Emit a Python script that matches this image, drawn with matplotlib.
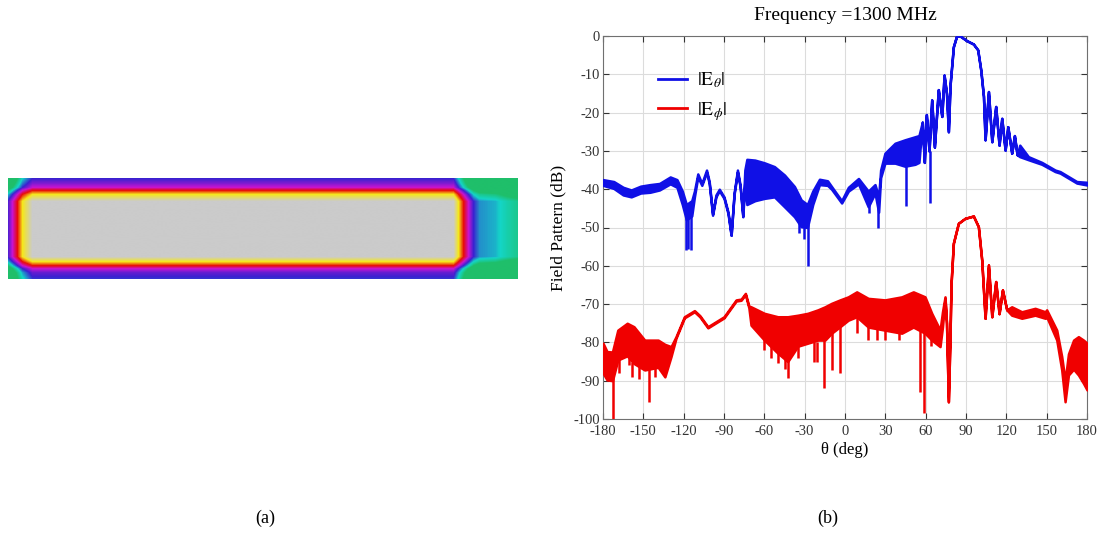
import numpy as np
import matplotlib
matplotlib.use('Agg')
import matplotlib.pyplot as plt
from matplotlib.colors import LinearSegmentedColormap
from matplotlib.lines import Line2D

plt.rcParams['font.family'] = ['Liberation Serif', 'DejaVu Serif']
plt.rcParams['mathtext.fontset'] = 'stix'
plt.rcParams['axes.unicode_minus'] = False

# ---- panel (a): field map, level profiles read across the strip ----
# level scale: 0 green, 1 cyan, 2 blue, 3 magenta, 4 red, 5 yellow, 6 grey
row_y = [0, 5, 9, 12, 16, 23, 79, 84, 88, 91, 95, 101]
row_level = [2.0, 2.5, 3.0, 4.0, 5.0, 6.0, 6.0, 5.0, 4.0, 3.0, 2.3, 1.9]
col_x = [0, 5, 9, 14, 24, 446, 451, 456, 461, 466, 472, 488, 500, 510]
col_level = [2.2, 3.2, 4.0, 5.0, 6.0, 6.0, 5.0, 4.0, 3.0, 2.0, 1.4, 1.2, 0.7, 0.4]
field_colors = ['#1fbf6a', '#14d6c8', '#3a22d0', '#c814d2', '#e80a0a', '#f6e81a', '#cbcbcb']

# ---- panel (b): |E_theta| (blue), envelope of the fast ripple ----
th_b = [-180, -172, -165, -159, -152, -145, -138, -130, -125, -121, -118, -114, -112,
        -109.5, -106.5, -103, -101, -98.5, -96, -93.5, -90, -87, -84.7, -82.5, -80,
        -78, -76, -74.5, -73, -67, -60, -52.5, -45, -37.6, -32.6, -28, -24, -19, -13,
        -10, -2.5, 2.5, 10, 17.3, 22.3, 25, 26.5, 29.7, 37.2, 44.6, 52.1, 55, 57.5,
        59, 60.5, 62.5, 64.5, 66.5, 69.4, 72, 73.7, 75.5, 76.9, 78.1, 80.6, 83, 85.6,
        90.5, 95.5, 98.7, 101, 103, 104.2, 106.7, 109.2, 112.1, 114.6, 116.6, 119.1,
        121.1, 124, 126, 128, 130, 136.4, 146.4, 156.3, 160, 172.4, 180]
hi_b = [-37.5, -38.0, -39.5, -40.2, -39.2, -38.8, -38.5, -36.8, -37.5, -40.5, -44, -43, -40.5,
        -36.0, -38.5, -35.0, -38, -46.5, -41.5, -40.0, -42, -46, -52, -41, -35,
        -39, -47, -35, -32.2, -32.4, -33.1, -34.1, -36.3, -39.3, -42.8, -44, -40.5, -37.4, -37.8,
        -39.3, -43, -39.5, -37.2, -40.5, -38.8, -42, -35, -30.6, -28, -27.1, -26.3, -26, -22.5,
        -33, -20.5, -30, -16.7, -29, -14, -21, -10.2, -15, -25, -13, -2.8, 0, 0,
        -1.2, -2.1, -3.6, -8.9, -15.8, -27.1, -14.5, -27.6, -18.4, -28.5, -21.5, -29.8,
        -23.7, -30.6, -26, -31, -28.5, -31.5, -33.0, -35, -35.4, -38, -38.2]
lo_b = [-39.0, -39.8, -41.5, -42.0, -41.0, -40.8, -40.2, -38.6, -39.5, -44.0, -48, -47, -42,
        -36.8, -39.0, -35.6, -38.5, -46.8, -42, -40.4, -42.4, -46.4, -52, -41.4, -35.5,
        -39.4, -47.2, -38, -44, -43, -42.4, -42, -44.6, -47.2, -49.8, -50, -44, -38.8, -39.0,
        -40, -43.6, -40.5, -38.6, -44.6, -41, -46, -37, -33.2, -33.2, -34, -33.5, -33, -22.5,
        -33, -20.5, -30, -16.7, -29, -14, -21, -10.2, -15, -25, -13, -2.8, 0, 0,
        -1.2, -2.1, -3.6, -8.9, -15.8, -27.1, -14.5, -27.6, -18.4, -28.5, -21.5, -29.8,
        -23.7, -30.6, -26, -31, -31.5, -32.3, -33.5, -35.4, -35.8, -38.4, -38.9]
spike_th_b = [-118.5, -116.5, -114.5, -33.9, -30.5, -27.6, 17.8, 24.8, 45.5, 63.2]
spike_top_b = [-46, -46, -46, -48, -48, -49, -43, -44, -33, -30]
spike_bot_b = [-56, -55.5, -56, -51.5, -53, -60, -46.1, -50.2, -44.4, -43.7]

# ---- panel (b): |E_phi| (red) ----
th_r = [-180, -177, -173, -169, -162, -157, -149, -139, -134, -129.4, -125.7, -119.5, -112,
        -108, -102, -90, -81, -77.3, -74.1, -71.5, -69.9, -60, -50, -42.6, -35.1, -27.7,
        -20.2, -14.9, -10, -3.7, 2.4, 8.7, 17.3, 29.7, 42.2, 50.8, 59.5, 64.5, 70.7, 72.5,
        74.4, 75.5, 76.9, 78, 78.9, 80.6, 84.3, 89.3, 95.5, 99.2, 101.7, 104.2, 106.7,
        109.2, 112.1, 114.6, 117.1, 120.3, 124, 131.5, 141.4, 148.9, 150, 157.5, 161.2,
        163.7, 166.2, 170, 173.6, 177.4, 180]
hi_r = [-80.2, -82.4, -82.5, -76.8, -75, -75.9, -79.4, -79.4, -80.5, -81.1, -78.5, -73.3, -71.7,
        -73, -75.9, -73.3, -68.9, -68.7, -67.2, -70.5, -70.7, -72.4, -73.3, -73.3, -72.9, -72.4,
        -71.5, -70.7, -69.8, -68.9, -68.1, -66.8, -68.5, -68.9, -68.1, -66.8, -68.1, -72.4, -76.8, -72,
        -68.1, -75, -95.5, -80, -64.6, -54.1, -48.9, -47.6, -47, -49.8, -58.5, -73.7, -59.8,
        -73.3, -64.1, -72.5, -66.3, -71.5, -70.7, -72, -71.1, -72, -71.5, -76.8, -83.7,
        -90, -83, -79.4, -78.5, -79.4, -80.2]
lo_r = [-88, -89.8, -90, -84.6, -83.5, -85.5, -87.2, -86.5, -89, -83.7, -78.9, -73.6, -72,
        -73.3, -76.2, -73.6, -69.2, -69, -67.5, -71, -75.5, -79.4, -82.8, -85, -81, -80.2,
        -79.4, -79.4, -77.6, -75.9, -74.2, -73.3, -76, -76.8, -77.6, -76, -77.6, -79.4, -81.1, -76,
        -68.5, -75, -95.5, -80, -64.6, -54.1, -48.9, -47.6, -47, -49.8, -58.5, -73.7, -59.8,
        -73.3, -64.1, -72.5, -66.3, -71.5, -72.9, -73.7, -72.9, -73.7, -73.3, -79.4, -87.2,
        -95.5, -88.5, -87, -88.5, -90.7, -92.4]
spike_th_r = [-172.8, -168, -161, -158.5, -153, -145.5, -141, -60, -55, -50, -45, -42.2, -35,
              -23, -20.5, -15.3, -10, -3.7, 8.7, 17.3, 24, 29.7, 40, 56, 59, 64]
spike_top_r = [-88, -84, -83, -85, -86, -87, -86, -79, -80, -82, -84, -84, -80,
               -80, -80, -79, -77, -75, -73, -76, -76, -76, -77, -77, -77, -79]
spike_bot_r = [-100, -88, -86, -89, -89.5, -95.5, -89, -82, -84, -85.5, -87, -89.4, -84,
               -85, -85, -92, -87.2, -88.1, -77.6, -79.4, -79.4, -79.4, -79.4, -92.9, -98.5, -81]

x_ticks = list(range(-180, 181, 30))
y_ticks = list(range(-100, 1, 10))

W, H = 1099, 533
fig = plt.figure(figsize=(W / 100, H / 100), dpi=100)

# panel (a)
ax_a = fig.add_axes([8 / W, (H - 279) / H, 510 / W, 101 / H])
xs = np.arange(0, 511)
ys = np.arange(0, 102)
r = np.interp(ys, row_y, row_level)
c = np.interp(xs, col_x, col_level)
field = np.clip(r[:, None] + c[None, :] - 6, 0, 6)
cmap = LinearSegmentedColormap.from_list('field', field_colors)
ax_a.imshow(field, cmap=cmap, vmin=0, vmax=6, aspect='auto', interpolation='bilinear')
ax_a.axis('off')

# panel (b)
ax = fig.add_axes([603 / W, (H - 419) / H, 484 / W, 383 / H])
blue = '#1010e6'
red = '#f00000'
ax.fill_between(th_b, lo_b, hi_b, color=blue, lw=1.8, joinstyle='round', zorder=3)
ax.vlines(spike_th_b, spike_top_b, spike_bot_b, color=blue, lw=1.8, zorder=3)
ax.fill_between(th_r, lo_r, hi_r, color=red, lw=1.8, joinstyle='round', zorder=3)
ax.vlines(spike_th_r, spike_top_r, spike_bot_r, color=red, lw=1.8, zorder=3)

ax.set_xlim(-180, 180)
ax.set_ylim(-100, 0)
ax.set_xticks(x_ticks)
ax.set_yticks(y_ticks)
ax.grid(True, color='#dcdcdc', lw=0.8)
ax.set_axisbelow(True)
ax.tick_params(direction='in', length=4, top=True, right=True, labelsize=10.5, colors='#333333')
ax.tick_params(axis='y', pad=2)
ax.tick_params(axis='x', pad=4)
for s in ax.spines.values():
    s.set_color('#707070')
    s.set_linewidth(0.8)
ax.set_xlabel('θ (deg)', fontsize=12, labelpad=3)
ax.set_ylabel('Field Pattern (dB)', fontsize=12.5, labelpad=5)

handles = [Line2D([], [], color=blue, lw=2), Line2D([], [], color=red, lw=2)]
ax.legend(handles, [r'$|\mathrm{E}_\theta|$', r'$|\mathrm{E}_\phi|$'], loc='upper left',
          bbox_to_anchor=(0.093, 0.935), frameon=False, fontsize=14, handlelength=1.5,
          handletextpad=0.5, labelspacing=0.5, borderpad=0)

fig.text(845 / W, 1 - 15 / H, 'Frequency =1300 MHz', ha='center', va='center', fontsize=14)
fig.text(265 / W, 1 - 518 / H, '(a)', ha='center', va='center', fontsize=13)
fig.text(828 / W, 1 - 518 / H, '(b)', ha='center', va='center', fontsize=13)

fig.savefig('out.png', dpi=100)
